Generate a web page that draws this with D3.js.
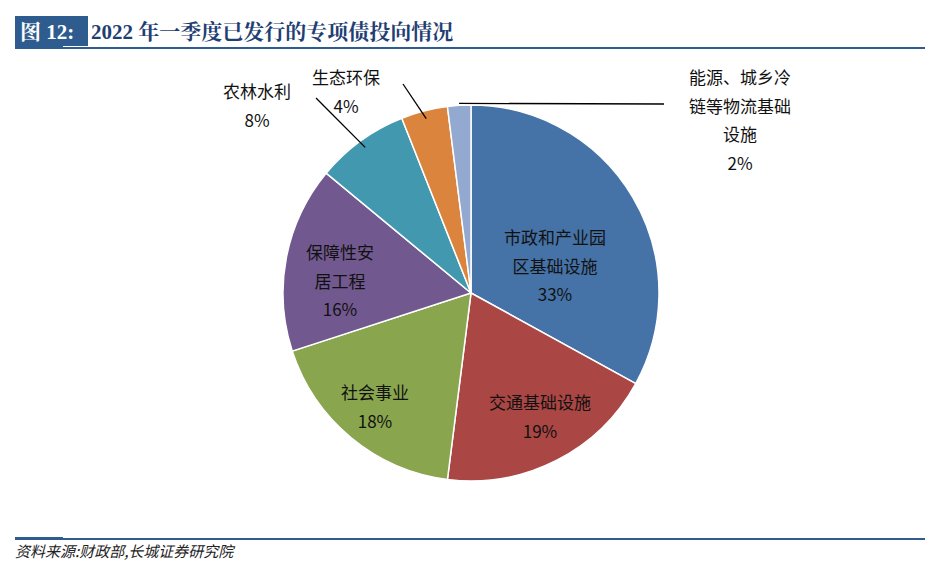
<!DOCTYPE html>
<html><head><meta charset="utf-8">
<script src="https://cdn.jsdelivr.net/npm/d3@7"></script>
<style>body{margin:0;background:#fff;font-family:"Noto Sans CJK SC",sans-serif;}</style>
</head><body>
<svg id="chart" width="945" height="568"></svg>
<script>
const categories = ["市政和产业园区基础设施", "交通基础设施", "社会事业", "保障性安居工程", "农林水利", "生态环保", "能源、城乡冷链等物流基础设施"]
const values = [33, 19, 18, 16, 8, 4, 2]
const labelLines = [["市政和产业园", "区基础设施"], ["交通基础设施"], ["社会事业"], ["保障性安", "居工程"], ["农林水利"], ["生态环保"], ["能源、城乡冷", "链等物流基础", "设施"]]
const colors = ["#4572A7", "#AA4643", "#89A54E", "#71588F", "#4198AF", "#DB843D", "#93A9CF"]
// label anchor (center of first line) and leader end for outside labels
const labelPos = [[555, 238], [540, 403], [375, 393], [340, 253], [257, 92], [346, 78], [740, 78]]
const leaderFrom = [null, null, null, null, [316, 98], [403, 84], [664, 104]]

const svg = d3.select("#chart")
const navy = "#1F3F73"

// header
svg.append("rect").attr("x", 15).attr("y", 16).attr("width", 73).attr("height", 30).attr("fill", "#2E5C8F")
svg.append("text").attr("x", 20).attr("y", 39).attr("fill", "#fff")
    .style("font-family", "'Liberation Serif','Noto Serif CJK SC',serif").style("font-weight", "bold").style("font-size", "21px")
    .text("图 12:")
svg.append("text").attr("x", 91).attr("y", 39).attr("fill", navy)
    .style("font-family", "'Liberation Serif','Noto Serif CJK SC',serif").style("font-weight", "bold").style("font-size", "21px")
    .text("2022 年一季度已发行的专项债投向情况")
function rule(y) {
    svg.append("rect").attr("x", 15).attr("y", y).attr("width", 910).attr("height", 2).attr("fill", "#2E5C8F")
    svg.append("rect").attr("x", 15).attr("y", y - 1).attr("width", 48).attr("height", 3).attr("fill", "#2E5C8F")
}
rule(47)
rule(538)
svg.append("text").attr("x", 15).attr("y", 557).attr("fill", "#222")
    .style("font-style", "italic").style("font-size", "15px")
    .attr("transform", "skewX(0)")
    .text("资料来源:财政部,长城证券研究院")

// pie
const cx = 471, cy = 293, r = 188
const pie = d3.pie().sort(null).value(d => d)
const arcs = pie(values)
const arc = d3.arc().innerRadius(0).outerRadius(r)
const g = svg.append("g").attr("transform", `translate(${cx},${cy})`)
g.selectAll("path").data(arcs).enter().append("path")
    .attr("d", arc)
    .attr("fill", (d, i) => colors[i])
    .attr("stroke", "#fff").attr("stroke-width", 1.5)

// leaders
arcs.forEach((d, i) => {
    if (!leaderFrom[i]) return
    const mid = (d.startAngle + d.endAngle) / 2
    const rr = i === 6 ? r + 2 : r - 8
    const ex = cx + rr * Math.sin(mid), ey = cy - rr * Math.cos(mid)
    svg.append("line").attr("x1", leaderFrom[i][0]).attr("y1", leaderFrom[i][1])
        .attr("x2", ex).attr("y2", ey).attr("stroke", "#000").attr("stroke-width", 1.3)
})

// labels
labelLines.forEach((lines, i) => {
    const t = svg.append("text").attr("text-anchor", "middle")
        .style("font-size", "17px").attr("fill", "#111")
    const all = lines.concat([values[i] + "%"])
    all.forEach((s, k) => {
        t.append("tspan").attr("x", labelPos[i][0]).attr("y", labelPos[i][1] + k * 28.5 + 6).text(s)
    })
})
</script>
</body></html>
